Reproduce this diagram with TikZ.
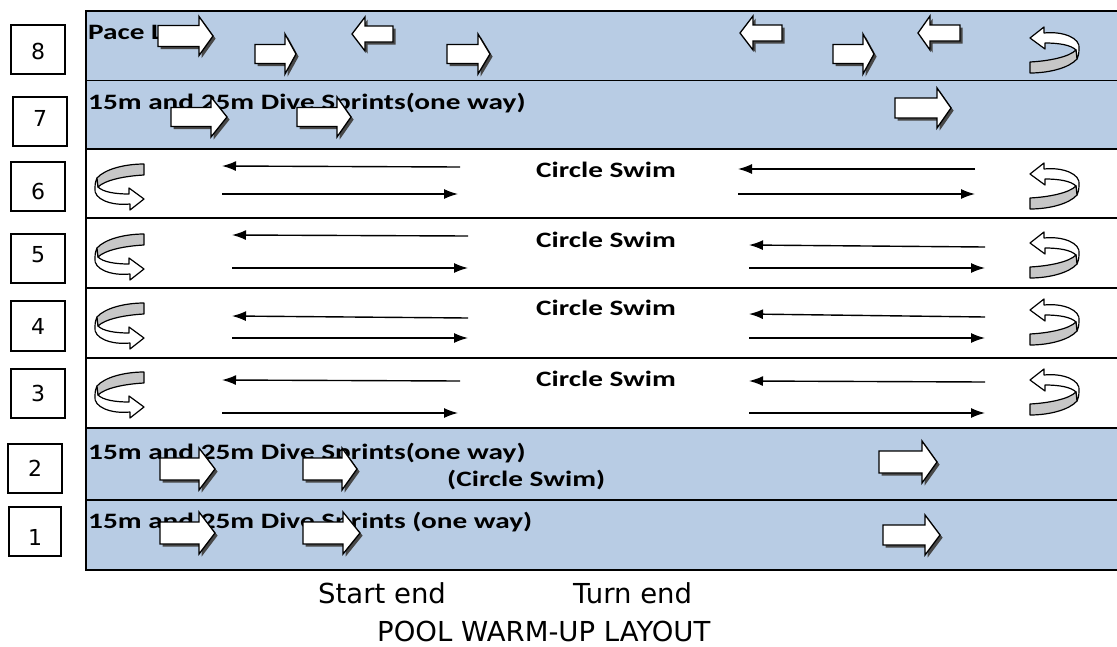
\documentclass[tikz,border=0pt]{standalone}
\usepackage{fontspec}
\usetikzlibrary{arrows.meta}
\newfontfamily\lanefont[FakeStretch=1.33]{Carlito}
\newfontfamily\labfont{DejaVu Sans}
\definecolor{laneblue}{HTML}{B8CCE4}
\tikzset{
  lanetxt/.style={inner sep=0pt, anchor=base west, font=\lanefont\bfseries\fontsize{22}{26}\selectfont},
  labtxt/.style={inner sep=0pt, anchor=base west, font=\labfont\fontsize{27.5}{30}\selectfont},
  numtxt/.style={inner sep=0pt, font=\labfont\fontsize{22}{26}\selectfont},
  numbox/.style={draw=black, line width=1.4pt, fill=white, inner sep=0pt},
  blockshadow/.style={fill=black!72, shift={(2.6,2.6)}},
  blockbody/.style={fill=white, draw=black, line width=1.3pt, line join=miter},
  thinarrow/.style={line width=1.4pt, -{Latex[length=14pt,width=10pt]}},
  laneline/.style={line width=2pt},
  uwhite/.style={fill=white, draw=black, line width=1.2pt, line join=round},
  ugray/.style={fill=black!22, draw=black, line width=1.2pt, line join=round},
  uturn/.pic={
    \path[uwhite] (1,16) -- (15,5) -- (15,11) .. controls (34,9) and (52,16) .. (50,27)
      .. controls (50,32) and (49,35) .. (48,37) -- (47,28)
      .. controls (42,23) and (30,21) .. (16,21) -- (16,27) -- cycle;
    \path[ugray] (1,40) .. controls (20,39) and (40,35) .. (47,28) -- (48,37)
      .. controls (40,46) and (20,51) .. (1,51) -- cycle;
  }
}
% name, xa (tail), xb (head base), xt (tip), yc, body half, head half
\newcommand\blockarrow[7]{%
  \pgfmathsetmacro\bau{#5-#6}\pgfmathsetmacro\bad{#5+#6}%
  \pgfmathsetmacro\bhu{#5-#7}\pgfmathsetmacro\bhd{#5+#7}%
  \path[blockshadow] (#2,\bau) -- (#3,\bau) -- (#3,\bhu) -- (#4,#5) -- (#3,\bhd) -- (#3,\bad) -- (#2,\bad) -- cycle;
  \path[blockbody] (#2,\bau) -- (#3,\bau) -- (#3,\bhu) -- (#4,#5) -- (#3,\bhd) -- (#3,\bad) -- (#2,\bad) -- cycle;
  \coordinate (#1) at (#4,#5);
}
\newcommand\thinarr[3]{%
  \coordinate (#1s) at (#2); \coordinate (#1e) at (#3);
  \draw[thinarrow] (#1s) -- (#1e);
}
\begin{document}
\begin{tikzpicture}[x=1pt,y=-1pt]
\useasboundingbox (0,0) rectangle (1117,646);
\clip (0,0) rectangle (1117,646);
\fill[white] (0,0) rectangle (1117,646);
% lanes
\fill[laneblue] (86,11) rectangle (1120,149);
\fill[laneblue] (86,428) rectangle (1120,570);
% texts
\node[lanetxt] (t8) at (88,39) {Pace Lane};
\node[lanetxt] (t7) at (88,109) {15m and 25m Dive Sprints(one way)};
\node[lanetxt] (t6) at (536,177) {Circle Swim};
\node[lanetxt] (t5) at (536,247) {Circle Swim};
\node[lanetxt] (t4) at (536,315) {Circle Swim};
\node[lanetxt] (t3) at (536,386) {Circle Swim};
\node[lanetxt] (t2) at (88,459) {15m and 25m Dive Sprints(one way)};
\node[lanetxt] (t2b) at (447,486) {(Circle Swim)};
\node[lanetxt] (t1) at (88,528) {15m and 25m Dive Sprints (one way)};
% lane 8 block arrows
\blockarrow{a81}{158}{199}{213}{36}{10.5}{19.5}
\blockarrow{a82}{255}{285}{296}{54}{9.5}{20}
\blockarrow{a83}{393}{365}{352}{34}{8}{17}
\blockarrow{a84}{447}{478}{490}{54}{9.5}{20}
\blockarrow{a85}{782}{753}{740}{33}{8}{17}
\blockarrow{a86}{833}{863}{874}{54}{9.5}{20}
\blockarrow{a87}{960}{930}{918}{33}{8}{17}
\pic at (1029,22) {uturn};
% lane 7
\blockarrow{a71}{171}{211}{227}{117}{9.5}{20}
\blockarrow{a72}{297}{337}{351}{117}{9.5}{20}
\blockarrow{a73}{895}{937}{951}{108}{10}{20}
% lane 2
\blockarrow{a21}{160}{199}{215}{469}{11}{21}
\blockarrow{a22}{303}{342}{357}{469}{11}{21}
\blockarrow{a23}{879}{922}{937}{462}{11}{21}
% lane 1
\blockarrow{a11}{160}{199}{215}{533}{11}{21}
\blockarrow{a12}{303}{343}{360}{533}{11}{21}
\blockarrow{a13}{883}{925}{940}{535}{10}{20}
% circle swim lanes: thin arrows
\thinarr{l6a}{460,167}{222,166}
\thinarr{l6b}{222,194}{458,194}
\thinarr{r6a}{975,169}{738,169}
\thinarr{r6b}{738,194}{975,194}
\thinarr{l5a}{468,236}{232,235}
\thinarr{l5b}{232,268}{468,268}
\thinarr{r5a}{985,247}{749,245}
\thinarr{r5b}{749,268}{985,268}
\thinarr{l4a}{468,318}{232,316}
\thinarr{l4b}{232,338}{468,338}
\thinarr{r4a}{985,317}{749,314}
\thinarr{r4b}{749,338}{985,338}
\thinarr{l3a}{460,381}{222,380}
\thinarr{l3b}{222,413}{458,413}
\thinarr{r3a}{985,382}{749,381}
\thinarr{r3b}{749,413}{985,413}
% U-turns
\pic[rotate=180] at (145,215) {uturn};
\pic[rotate=180] at (145,285) {uturn};
\pic[rotate=180] at (145,354) {uturn};
\pic[rotate=180] at (145,423) {uturn};
\pic at (1029,158) {uturn};
\pic at (1029,227) {uturn};
\pic at (1029,294) {uturn};
\pic at (1029,364) {uturn};
% lane lines
\draw[laneline] (86,11) -- (1120,11);
\draw[line width=1pt] (86,80) -- (1120,80);
\draw[laneline] (86,149) -- (1120,149);
\draw[laneline] (86,218) -- (1120,218);
\draw[laneline] (86,288) -- (1120,288);
\draw[laneline] (86,358) -- (1120,358);
\draw[laneline] (86,428) -- (1120,428);
\draw[laneline] (86,500) -- (1120,500);
\draw[laneline] (86,570) -- (1120,570);
\draw[laneline] (86,10) -- (86,571);
% lane number boxes
\node[numbox, minimum width=54pt, minimum height=49pt] (b8) at (38,49.5) {};
\node[numbox, minimum width=54pt, minimum height=49pt] (b7) at (40,121.5) {};
\node[numbox, minimum width=54pt, minimum height=49pt] (b6) at (38,186.5) {};
\node[numbox, minimum width=54pt, minimum height=49pt] (b5) at (38,258.5) {};
\node[numbox, minimum width=54pt, minimum height=50pt] (b4) at (38,326) {};
\node[numbox, minimum width=54pt, minimum height=49pt] (b3) at (38,393.5) {};
\node[numbox, minimum width=54pt, minimum height=49pt] (b2) at (35,468.5) {};
\node[numbox, minimum width=52pt, minimum height=49pt] (b1) at (35,531.5) {};
\node[numtxt] (n8) at (38,51) {8};
\node[numtxt] (n7) at (40,118) {7};
\begin{scope}
  \clip (20,170) rectangle (60,199.5);
  \node[numtxt] (n6) at (38,191) {6};
\end{scope}
\node[numtxt] (n5) at (38,255) {5};
\node[numtxt] (n4) at (38,326) {4};
\node[numtxt] (n3) at (38,393) {3};
\node[numtxt] (n2) at (35,468) {2};
\node[numtxt] (n1) at (35,537) {1};
% captions
\node[labtxt] (se) at (318,603) {Start end};
\node[labtxt] (te) at (573,603) {Turn end};
\node[labtxt] (ttl) at (377,641) {POOL WARM-UP LAYOUT};
\end{tikzpicture}
\end{document}
